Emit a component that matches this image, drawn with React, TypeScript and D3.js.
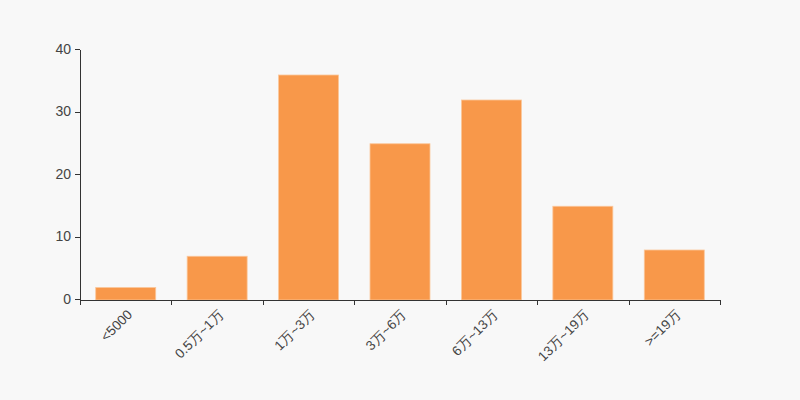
import React from "react";
import * as d3 from "d3";

const categories = ["<5000", "0.5万~1万", "1万~3万", "3万~6万", "6万~13万", "13万~19万", ">=19万"];
const values = [2, 7, 36, 25, 32, 15, 8];
const yTicks = [0, 10, 20, 30, 40];

export default function App() {
  const W = 800, H = 400;
  const left = 80, right = 720, top = 50, bottom = 300;
  const x = d3.scaleBand<string>().domain(categories).range([left, right]);
  const y = d3.scaleLinear().domain([0, 40]).range([bottom, top]);
  const bw = 60;
  const font = "Arial, 'Liberation Sans', sans-serif";
  const bounds = [...categories.map((c) => x(c) as number), right];
  return (
    <svg width={W} height={H} style={{ position: "absolute", left: 0, top: 0, background: "#f8f8f8" }}>
      <rect x={0} y={0} width={W} height={H} fill="#f8f8f8" />
      {categories.map((c, i) => {
        const cx = (x(c) as number) + x.bandwidth() / 2;
        return (
          <rect
            key={c}
            x={cx - bw / 2}
            y={y(values[i])}
            width={bw}
            height={bottom - y(values[i])}
            fill="#f8984a"
            stroke="#fbc79b"
            strokeWidth={0.8}
          />
        );
      })}
      <line x1={left + 0.5} x2={left + 0.5} y1={top} y2={bottom} stroke="#333" />
      {yTicks.map((t) => (
        <g key={t}>
          <line x1={left - 5} x2={left} y1={Math.round(y(t)) - 0.5} y2={Math.round(y(t)) - 0.5} stroke="#333" />
          <text x={left - 9} y={y(t) - 1} dy="0.35em" textAnchor="end" fontSize={14} fill="#444" fontFamily={font}>
            {t}
          </text>
        </g>
      ))}
      <line x1={left} x2={right + 0.5} y1={bottom + 0.5} y2={bottom + 0.5} stroke="#333" />
      {bounds.map((b, i) => (
        <line key={i} x1={Math.round(b) + 0.5} x2={Math.round(b) + 0.5} y1={bottom} y2={bottom + 5} stroke="#333" />
      ))}
      {categories.map((c) => {
        const cx = (x(c) as number) + x.bandwidth() / 2;
        return (
          <text
            key={c}
            transform={`translate(${cx + 4},${bottom + 12}) rotate(-45)`}
            textAnchor="end"
            dy="0.35em"
            fontSize={13.5}
            fill="#444"
            fontFamily={font}
          >
            {c}
          </text>
        );
      })}
    </svg>
  );
}
